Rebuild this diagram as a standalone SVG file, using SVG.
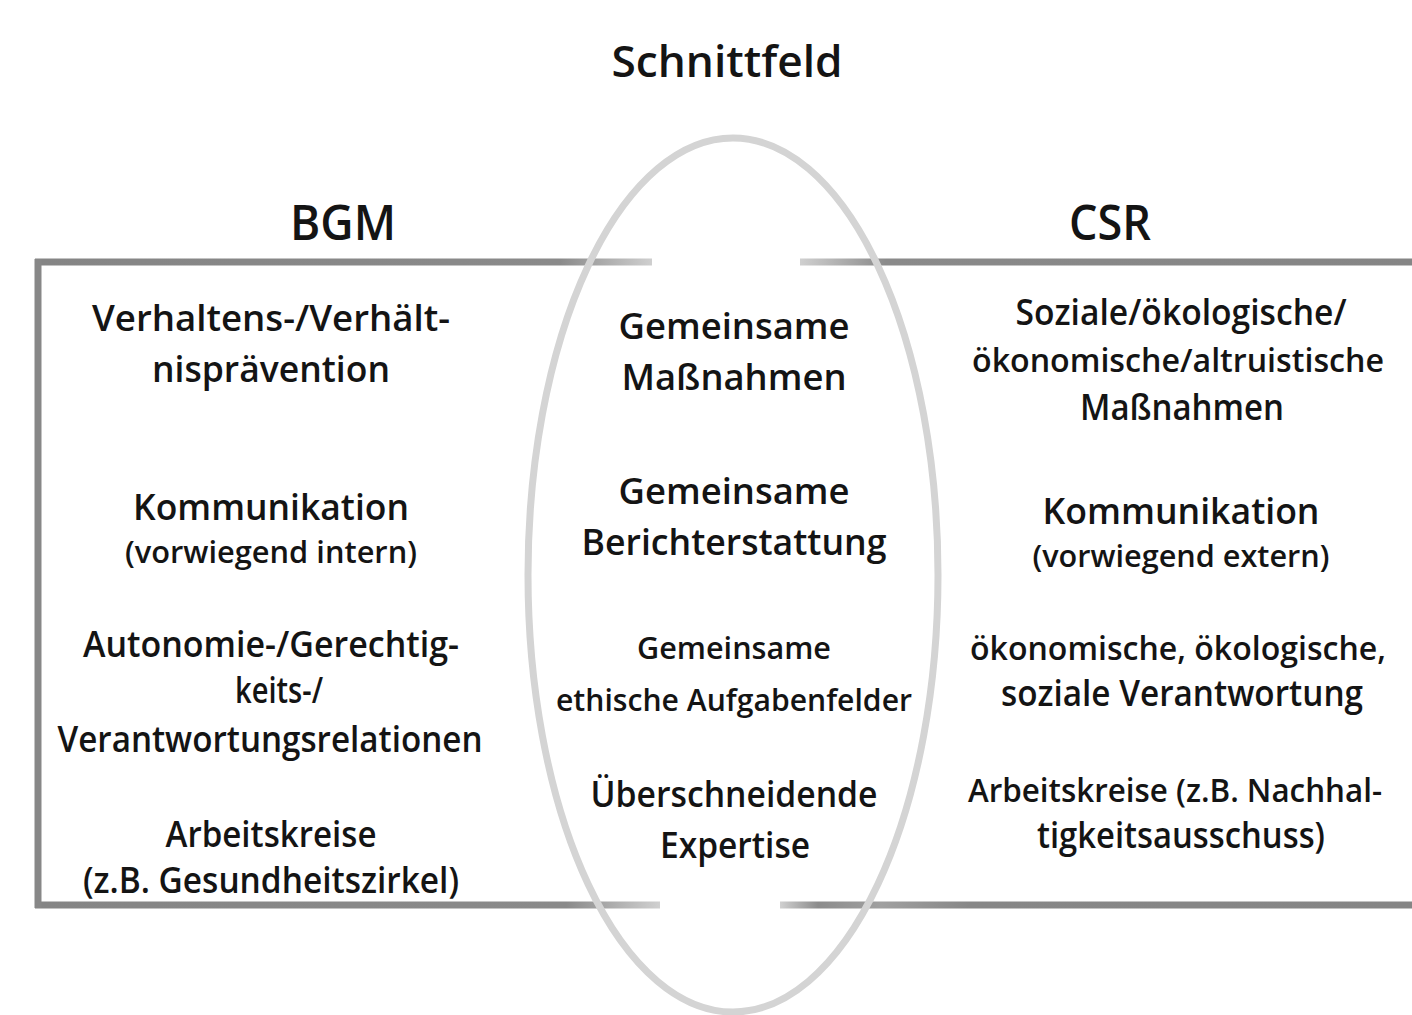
<svg xmlns="http://www.w3.org/2000/svg" width="1412" height="1015" viewBox="0 0 1412 1015">
<defs>
<style>
text{font-family:"Open Sans","Noto Sans","Liberation Sans",sans-serif;fill:#141414;text-anchor:middle;font-weight:600}
.h{font-size:48px}
.t{font-size:44px}
.b{font-size:36px}
.n{font-size:33px}
.s{font-size:31px}
.bar{stroke-width:7;fill:none}
</style>
<linearGradient id="gTL" gradientUnits="userSpaceOnUse" x1="35" y1="0" x2="652" y2="0">
<stop offset="0" stop-color="#858585"/><stop offset="0.85" stop-color="#8a8a8a"/><stop offset="1" stop-color="#cfcfcf"/>
</linearGradient>
<linearGradient id="gTR" gradientUnits="userSpaceOnUse" x1="800" y1="0" x2="1412" y2="0">
<stop offset="0" stop-color="#d0d0d0"/><stop offset="0.14" stop-color="#8a8a8a"/><stop offset="1" stop-color="#858585"/>
</linearGradient>
<linearGradient id="gBL" gradientUnits="userSpaceOnUse" x1="35" y1="0" x2="660" y2="0">
<stop offset="0" stop-color="#858585"/><stop offset="0.85" stop-color="#8a8a8a"/><stop offset="1" stop-color="#d0d0d0"/>
</linearGradient>
<linearGradient id="gBR" gradientUnits="userSpaceOnUse" x1="780" y1="0" x2="1412" y2="0">
<stop offset="0" stop-color="#d0d0d0"/><stop offset="0.06" stop-color="#8c8c8c"/><stop offset="0.16" stop-color="#a0a0a0"/><stop offset="0.3" stop-color="#878787"/><stop offset="1" stop-color="#858585"/>
</linearGradient>
</defs>
<rect width="1412" height="1015" fill="#ffffff"/>

<g id="connectors">
<line class="bar" x1="35" y1="262" x2="652" y2="262" stroke="url(#gTL)"/>
<line class="bar" x1="800" y1="262" x2="1412" y2="262" stroke="url(#gTR)"/>
<line class="bar" x1="35" y1="905" x2="660" y2="905" stroke="url(#gBL)"/>
<line class="bar" x1="780" y1="905" x2="1412" y2="905" stroke="url(#gBR)"/>
<line class="bar" x1="38" y1="259" x2="38" y2="908" stroke="#878787"/>
</g>

<g id="schnittfeld-ellipse">
<ellipse cx="733" cy="575" rx="205" ry="437" fill="none" stroke="#d4d4d4" stroke-width="7"/>
</g>

<g id="title">
<text class="t" x="727" y="77" textLength="231" lengthAdjust="spacingAndGlyphs">Schnittfeld</text>
</g>

<g id="bgm">
<text class="h" x="343" y="240" textLength="106" lengthAdjust="spacingAndGlyphs">BGM</text>
<text class="b" x="271" y="331" textLength="358" lengthAdjust="spacingAndGlyphs">Verhaltens-/Verhält-</text>
<text class="b" x="271" y="382" textLength="238" lengthAdjust="spacingAndGlyphs">nisprävention</text>
<text class="b" x="271" y="520" textLength="276" lengthAdjust="spacingAndGlyphs">Kommunikation</text>
<text class="s" x="271" y="563" textLength="292" lengthAdjust="spacingAndGlyphs">(vorwiegend intern)</text>
<text class="b" x="271" y="657" textLength="376" lengthAdjust="spacingAndGlyphs">Autonomie-/Gerechtig-</text>
<text class="b" x="279" y="703" textLength="88" lengthAdjust="spacingAndGlyphs">keits-/</text>
<text class="b" x="270" y="752" textLength="425" lengthAdjust="spacingAndGlyphs">Verantwortungsrelationen</text>
<text class="b" x="271" y="847" textLength="211" lengthAdjust="spacingAndGlyphs">Arbeitskreise</text>
<text class="b" x="271" y="893" textLength="376" lengthAdjust="spacingAndGlyphs">(z.B. Gesundheitszirkel)</text>
</g>

<g id="schnittfeld">
<text class="b" x="734" y="339" textLength="231" lengthAdjust="spacingAndGlyphs">Gemeinsame</text>
<text class="b" x="734" y="390" textLength="225" lengthAdjust="spacingAndGlyphs">Maßnahmen</text>
<text class="b" x="734" y="504" textLength="231" lengthAdjust="spacingAndGlyphs">Gemeinsame</text>
<text class="b" x="734" y="555" textLength="305" lengthAdjust="spacingAndGlyphs">Berichterstattung</text>
<text class="s" x="734" y="659" textLength="194" lengthAdjust="spacingAndGlyphs">Gemeinsame</text>
<text class="s" x="734" y="711" textLength="356" lengthAdjust="spacingAndGlyphs">ethische Aufgabenfelder</text>
<text class="b" x="734" y="807" textLength="287" lengthAdjust="spacingAndGlyphs">Überschneidende</text>
<text class="b" x="735" y="858" textLength="150" lengthAdjust="spacingAndGlyphs">Expertise</text>
</g>

<g id="csr">
<text class="h" x="1110" y="240" textLength="82" lengthAdjust="spacingAndGlyphs">CSR</text>
<text class="b" x="1181" y="325" textLength="331" lengthAdjust="spacingAndGlyphs">Soziale/ökologische/</text>
<text class="n" x="1178" y="372" textLength="412" lengthAdjust="spacingAndGlyphs">ökonomische/altruistische</text>
<text class="b" x="1182" y="420" textLength="204" lengthAdjust="spacingAndGlyphs">Maßnahmen</text>
<text class="b" x="1181" y="524" textLength="277" lengthAdjust="spacingAndGlyphs">Kommunikation</text>
<text class="s" x="1181" y="567" textLength="297" lengthAdjust="spacingAndGlyphs">(vorwiegend extern)</text>
<text class="n" x="1178" y="660" textLength="416" lengthAdjust="spacingAndGlyphs">ökonomische, ökologische,</text>
<text class="b" x="1182" y="706" textLength="362" lengthAdjust="spacingAndGlyphs">soziale Verantwortung</text>
<text class="n" x="1175" y="802" textLength="414" lengthAdjust="spacingAndGlyphs">Arbeitskreise (z.B. Nachhal-</text>
<text class="b" x="1181" y="848" textLength="288" lengthAdjust="spacingAndGlyphs">tigkeitsausschuss)</text>
</g>
</svg>
